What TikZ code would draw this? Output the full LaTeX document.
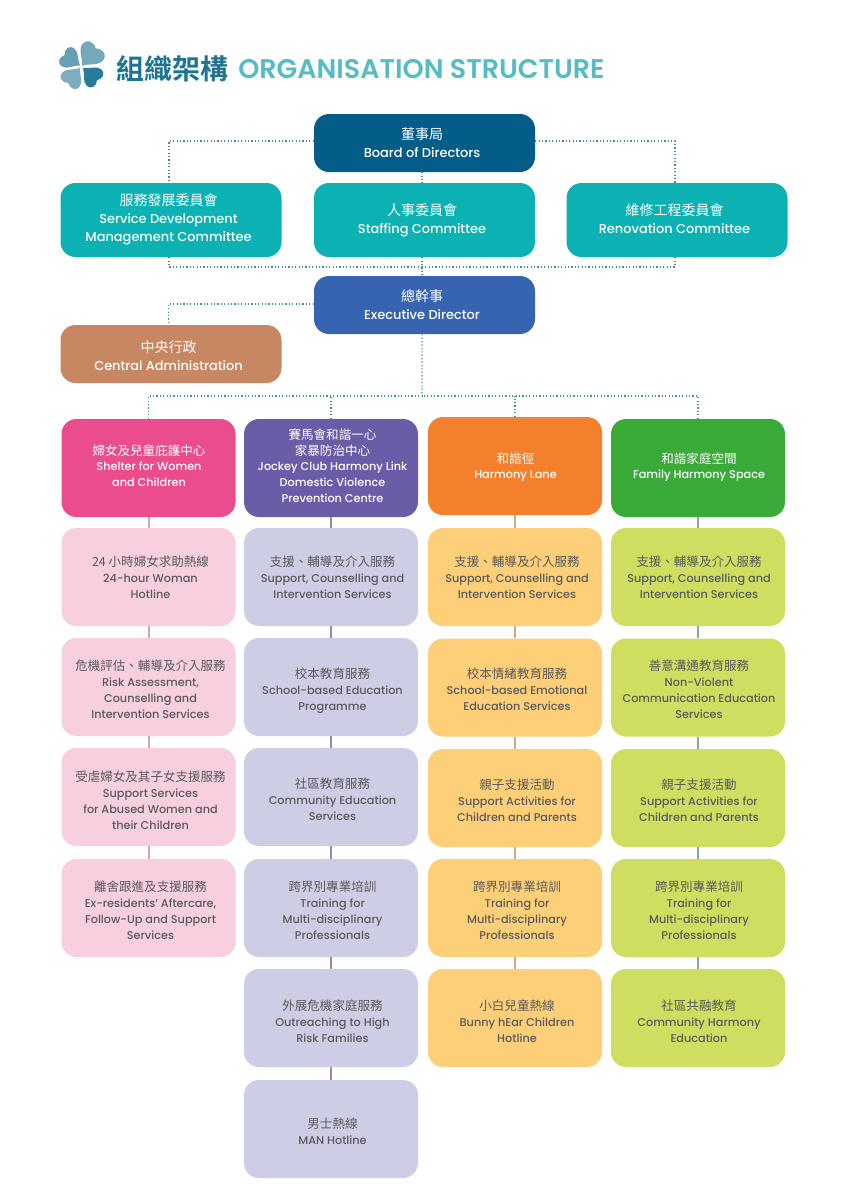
\documentclass[tikz,border=0pt]{standalone}
\usepackage{fontspec}
\setmainfont{Poppins Medium}
\newfontfamily\cjk{Noto Sans CJK TC}
\newfontfamily\cjkb{Noto Sans CJK TC Bold}
\newfontfamily\popm{Poppins SemiBold}
\newdimen\px \px=0.75pt
\newcommand\zhsize{9.4}
\newcommand\zh[1]{{\fontsize{\zhsize}{12}\cjk #1}}
\newcommand\T[3]{\raisebox{#2\px}[0pt][0pt]{\makebox[0pt]{\hspace*{#1\px}\hspace*{#1\px}\begin{tabular}{@{}c@{}}#3\end{tabular}}}}
\definecolor{cBoard}{HTML}{045D89}
\definecolor{cComm}{HTML}{0CB1B3}
\definecolor{cED}{HTML}{3664B0}
\definecolor{cCA}{HTML}{C68762}
\definecolor{cPink}{HTML}{EA4C8E}
\definecolor{cPurple}{HTML}{6B5CA8}
\definecolor{cOrange}{HTML}{F2802D}
\definecolor{cGreen}{HTML}{3AAB38}
\definecolor{lPink}{HTML}{F8CFDE}
\definecolor{lPurple}{HTML}{CECDE6}
\definecolor{lOrange}{HTML}{FDCF78}
\definecolor{lGreen}{HTML}{CFDE60}
\definecolor{lnPink}{HTML}{D9A0B8}
\definecolor{lnPurple}{HTML}{8C8CB4}
\definecolor{lnOrange}{HTML}{D2A88C}
\definecolor{lnGreen}{HTML}{84AE90}
\definecolor{rowtxt}{HTML}{5A5A5C}
\definecolor{dots}{HTML}{3F8F98}
\definecolor{ttlA}{HTML}{1F7492}
\definecolor{ttlB}{HTML}{55BCC4}
\tikzset{
  boxbase/.style={rounded corners=15\px,inner sep=0pt,draw=none},
  topbox/.style={boxbase,minimum width=221\px,text=white,
    font={\fontsize{9.7}{13.5}\selectfont\renewcommand\zhsize{10.5}}},
  headbox/.style={boxbase,minimum width=174\px,minimum height=98\px,text=white,
    font={\fontsize{8.45}{11.8}\selectfont\renewcommand\zhsize{9.4}}},
  rowbox/.style={boxbase,minimum width=174\px,minimum height=98\px,text=rowtxt,
    font={\fontsize{8.45}{12}\selectfont\renewcommand\zhsize{9.4}}},
  dotline/.style={draw=dots,line width=1.4\px,dash pattern=on 1.2\px off 2.2\px},
  link/.style={line width=2\px},
  petal/.style={draw=none}
}
\newcommand\petalpath{(0,0) .. controls (0.25,0.12) and (0.4,0.55) .. (0.75,0.55) .. controls (1.0,0.55) and (1.12,0.25) .. (0.93,0) .. controls (1.12,-0.25) and (1.0,-0.55) .. (0.75,-0.55) .. controls (0.4,-0.55) and (0.25,-0.12) .. (0,0) -- cycle}
\begin{document}
\begin{tikzpicture}[x=0.75pt,y=-0.75pt]
\useasboundingbox (0,0) rectangle (864,1200);
\fill[white] (0,0) rectangle (864,1200);
% logo
\fill[petal,fill=ttlA!62!white,shift={(82,66)},rotate=52,scale=24] \petalpath;
\fill[petal,fill=ttlA!68!white,shift={(80,65.5)},rotate=146,scale=20] \petalpath;
\fill[petal,fill=ttlA!58!white,shift={(80,68)},rotate=232,scale=20.5] \petalpath;
\fill[petal,fill=ttlA!95!white,shift={(83,68)},rotate=-41,scale=20] \petalpath;
% title
\node[inner sep=0pt,anchor=west,text=ttlA,font={\fontsize{21}{24}\selectfont\cjkb}] (ttlzh) at (116.5,69) {組織架構};
\node[inner sep=0pt,anchor=west,text=ttlB,font={\fontsize{20.2}{24}\selectfont\popm}] (ttlen) at (238,69) {ORGANISATION STRUCTURE};
% upper boxes
\node[topbox,fill=cBoard,minimum height=58\px] (board) at (424.5,143) {\T{-2.5}{-5.5}{\zh{董事局}\\Board of Directors}};
\node[topbox,fill=cComm,minimum height=74\px] (sd) at (171,220) {\T{-2.5}{-3.5}{\zh{服務發展委員會}\\Service Development\\Management Committee}};
\node[topbox,fill=cComm,minimum height=74\px] (staff) at (424.5,220) {\T{-2.5}{-4.5}{\zh{人事委員會}\\Staffing Committee}};
\node[topbox,fill=cComm,minimum height=74\px] (reno) at (677,220) {\T{-2.5}{-4.5}{\zh{維修工程委員會}\\Renovation Committee}};
\node[topbox,fill=cED,minimum height=58\px] (ed) at (424.5,305) {\T{-2.5}{-5.5}{\zh{總幹事}\\Executive Director}};
\node[topbox,fill=cCA,minimum height=58\px] (ca) at (171,354) {\T{-2.5}{-7}{\zh{中央行政}\\Central Administration}};
% heads
\node[headbox,fill=cPink] (h1) at (148.5,468) {\T{0.5}{-2.5}{\zh{婦女及兒童庇護中心}\\Shelter for Women\\and Children}};
\node[headbox,fill=cPurple] (h2) at (331,468) {\T{1.5}{-2.5}{\zh{賽馬會和諧一心}\\\zh{家暴防治中心}\\Jockey Club Harmony Link\\Domestic Violence\\Prevention Centre}};
\node[headbox,fill=cOrange] (h3) at (515,466) {\T{0.5}{-4.5}{\zh{和諧徑}\\Harmony Lane}};
\node[headbox,fill=cGreen] (h4) at (698,468) {\T{1}{-2.5}{\zh{和諧家庭空間}\\Family Harmony Space}};
% column 1
\node[rowbox,fill=lPink] (a1) at (148.5,577) {\T{2}{-4.5}{\zh{24 小時婦女求助熱線}\\24-hour Woman\\Hotline}};
\node[rowbox,fill=lPink] (a2) at (148.5,687) {\T{2}{-6.5}{\zh{危機評估、輔導及介入服務}\\Risk Assessment,\\Counselling and\\Intervention Services}};
\node[rowbox,fill=lPink] (a3) at (148.5,797) {\T{2}{-7.5}{\zh{受虐婦女及其子女支援服務}\\Support Services\\for Abused Women and\\their Children}};
\node[rowbox,fill=lPink] (a4) at (148.5,908) {\T{2}{-6.5}{\zh{離舍跟進及支援服務}\\Ex-residents' Aftercare,\\Follow-Up and Support\\Services}};
% column 2
\node[rowbox,fill=lPurple] (b1) at (331,577) {\T{1.5}{-4.5}{\zh{支援、輔導及介入服務}\\Support, Counselling and\\Intervention Services}};
\node[rowbox,fill=lPurple] (b2) at (331,687) {\T{1.5}{-6.5}{\zh{校本教育服務}\\School-based Education\\Programme}};
\node[rowbox,fill=lPurple] (b3) at (331,797) {\T{1.5}{-7}{\zh{社區教育服務}\\Community Education\\Services}};
\node[rowbox,fill=lPurple] (b4) at (331,908) {\T{1.5}{-6.5}{\zh{跨界別專業培訓}\\Training for\\Multi-disciplinary\\Professionals}};
\node[rowbox,fill=lPurple] (b5) at (331,1018) {\T{1.5}{-7.5}{\zh{外展危機家庭服務}\\Outreaching to High\\Risk Families}};
\node[rowbox,fill=lPurple] (b6) at (331,1129) {\T{1.5}{-6.5}{\zh{男士熱線}\\MAN Hotline}};
% column 3
\node[rowbox,fill=lOrange] (c1) at (515,577) {\T{2}{-4.5}{\zh{支援、輔導及介入服務}\\Support, Counselling and\\Intervention Services}};
\node[rowbox,fill=lOrange] (c2) at (515,687.5) {\T{2}{-6.5}{\zh{校本情緒教育服務}\\School-based Emotional\\Education Services}};
\node[rowbox,fill=lOrange] (c3) at (515,798) {\T{2}{-6.5}{\zh{親子支援活動}\\Support Activities for\\Children and Parents}};
\node[rowbox,fill=lOrange] (c4) at (515,908) {\T{2}{-6.5}{\zh{跨界別專業培訓}\\Training for\\Multi-disciplinary\\Professionals}};
\node[rowbox,fill=lOrange] (c5) at (515,1018) {\T{2}{-7.5}{\zh{小白兒童熱線}\\Bunny hEar Children\\Hotline}};
% column 4
\node[rowbox,fill=lGreen] (d1) at (698,577) {\T{1}{-4.5}{\zh{支援、輔導及介入服務}\\Support, Counselling and\\Intervention Services}};
\node[rowbox,fill=lGreen] (d2) at (698,687.5) {\T{1}{-6.5}{\zh{善意溝通教育服務}\\Non-Violent\\Communication Education\\Services}};
\node[rowbox,fill=lGreen] (d3) at (698,798) {\T{1}{-6.5}{\zh{親子支援活動}\\Support Activities for\\Children and Parents}};
\node[rowbox,fill=lGreen] (d4) at (698,908) {\T{1}{-6.5}{\zh{跨界別專業培訓}\\Training for\\Multi-disciplinary\\Professionals}};
\node[rowbox,fill=lGreen] (d5) at (698,1018) {\T{1}{-7.5}{\zh{社區共融教育}\\Community Harmony\\Education}};
% dotted connectors
\coordinate (busA) at (422,267);
\coordinate (busB) at (422,396);
\draw[dotline] ([yshift=1.5pt]board.west) -| ([xshift=-1.5pt]sd.north);
\draw[dotline] ([yshift=1.5pt]board.east) -| ([xshift=-1.5pt]reno.north);
\draw[dotline] ([xshift=-1.9pt]board.south) -- ([xshift=-1.9pt]staff.north);
\draw[dotline] ([xshift=-1.5pt]sd.south) |- (busA);
\draw[dotline] ([xshift=-1.5pt]reno.south) |- (busA);
\draw[dotline] ([xshift=-1.9pt]staff.south) -- ([xshift=-1.9pt]ed.north);
\draw[dotline] ([yshift=0.7pt]ed.west) -| ([xshift=-2pt]ca.north);
\draw[dotline] ([xshift=-1.9pt]ed.south) -- (busB);
\draw[dotline] (h1.north) |- (busB);
\draw[dotline] (h4.north) |- (busB);
\draw[dotline] (h2.north) -- (h2.north |- busB);
\draw[dotline] (h3.north) -- (h3.north |- busB);
% solid connectors
\draw[link,lnPink] (h1) -- (a1) (a1) -- (a2) (a2) -- (a3) (a3) -- (a4);
\draw[link,lnPurple] (h2) -- (b1) (b1) -- (b2) (b2) -- (b3) (b3) -- (b4) (b4) -- (b5) (b5) -- (b6);
\draw[link,lnOrange] (h3) -- (c1) (c1) -- (c2) (c2) -- (c3) (c3) -- (c4) (c4) -- (c5);
\draw[link,lnGreen] (h4) -- (d1) (d1) -- (d2) (d2) -- (d3) (d3) -- (d4) (d4) -- (d5);
\end{tikzpicture}
\end{document}
